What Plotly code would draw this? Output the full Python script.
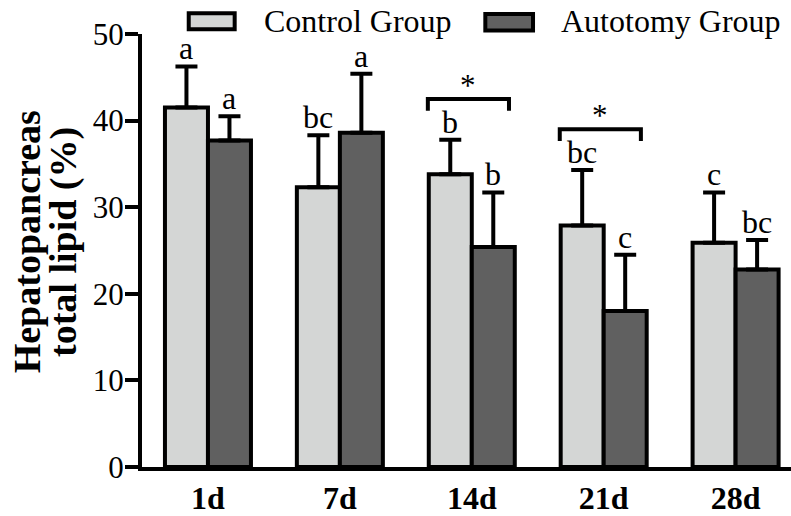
import plotly.graph_objects as go

categories = ["1d", "7d", "14d", "21d", "28d"]
control_mean = [41.5, 32.3, 33.8, 27.9, 25.9]
control_err = [4.75, 6.0, 4.0, 6.4, 5.8]
autotomy_mean = [37.7, 38.6, 25.4, 18.0, 22.8]
autotomy_err = [2.8, 6.8, 6.3, 6.5, 3.4]
control_letters = ["a", "bc", "b", "bc", "c"]
autotomy_letters = ["a", "a", "b", "c", "bc"]
sig_groups = [2, 3]
sig_marks = ["*", "*"]
yticks = [0, 10, 20, 30, 40, 50]

FONT = "Liberation Serif"
LIGHT = "#d4d6d5"
DARK = "#606060"
LW = 4
xi = list(range(len(categories)))
OFF = 0.163

fig = go.Figure()
fig.add_trace(go.Bar(
    x=xi, y=control_mean, name="Control Group",
    marker=dict(color=LIGHT, line=dict(color="black", width=LW)),
    error_y=dict(type="data", array=control_err, arrayminus=[0] * 5, symmetric=False,
                 color="black", thickness=LW, width=11),
))
fig.add_trace(go.Bar(
    x=xi, y=autotomy_mean, name="Autotomy Group",
    marker=dict(color=DARK, line=dict(color="black", width=LW)),
    error_y=dict(type="data", array=autotomy_err, arrayminus=[0] * 5, symmetric=False,
                 color="black", thickness=LW, width=11),
))

annotations = []
for i in xi:
    annotations.append(dict(x=i - OFF, y=control_mean[i] + control_err[i], xref="x", yref="y",
                            text=control_letters[i], showarrow=False, yanchor="bottom",
                            yshift=-2, font=dict(family=FONT, size=32, color="black")))
    annotations.append(dict(x=i + OFF, y=autotomy_mean[i] + autotomy_err[i], xref="x", yref="y",
                            text=autotomy_letters[i], showarrow=False, yanchor="bottom",
                            yshift=-2, font=dict(family=FONT, size=32, color="black")))

shapes = []
for g, mark in zip(sig_groups, sig_marks):
    top = max(control_mean[g] + control_err[g], autotomy_mean[g] + autotomy_err[g]) + 4.7
    x1, x2 = g - 0.333, g + 0.282
    shapes.append(dict(type="path", xref="x", yref="y",
                       path=f"M {x1},{top - 1.35} L {x1},{top} L {x2},{top} L {x2},{top - 1.35}",
                       line=dict(color="black", width=LW)))
    annotations.append(dict(x=(x1 + x2) / 2, y=top, xref="x", yref="y", text=mark,
                            showarrow=False, yanchor="bottom", yshift=-6,
                            font=dict(family=FONT, size=31, color="black")))

# legend drawn manually
shapes.append(dict(type="rect", xref="paper", yref="paper", x0=0.072, x1=0.1428, y0=1.011, y1=1.048,
                   fillcolor=LIGHT, line=dict(color="black", width=LW)))
shapes.append(dict(type="rect", xref="paper", yref="paper", x0=0.529, x1=0.6025, y0=1.008, y1=1.046,
                   fillcolor=DARK, line=dict(color="black", width=LW)))
annotations.append(dict(x=0.185, y=1.03, xref="paper", yref="paper", text="Control Group",
                        showarrow=False, xanchor="left", yanchor="middle",
                        font=dict(family=FONT, size=32, color="black")))
annotations.append(dict(x=0.642, y=1.03, xref="paper", yref="paper", text="Autotomy Group",
                        showarrow=False, xanchor="left", yanchor="middle",
                        font=dict(family=FONT, size=32, color="black")))

# y-axis title (two lines)
annotations.append(dict(x=-0.178, y=0.52, xref="paper", yref="paper", text="<b>Hepatopancreas</b>",
                        showarrow=False, textangle=-90, xanchor="center", yanchor="middle",
                        font=dict(family=FONT, size=38, color="black")))
annotations.append(dict(x=-0.120, y=0.52, xref="paper", yref="paper", text="<b>total lipid (%)</b>",
                        showarrow=False, textangle=-90, xanchor="center", yanchor="middle",
                        font=dict(family=FONT, size=38, color="black")))

fig.update_layout(
    width=791, height=516,
    margin=dict(l=142, r=0, t=34, b=41),
    paper_bgcolor="white", plot_bgcolor="white",
    barmode="group", bargap=0.348, bargroupgap=0,
    showlegend=False,
    annotations=annotations, shapes=shapes,
    xaxis=dict(range=[-0.5, 4.42], tickvals=xi, ticktext=[f"<b>{c}</b>" for c in categories],
               showline=True, linecolor="black", linewidth=LW, ticks="", showgrid=False,
               zeroline=False, tickfont=dict(family=FONT, size=32, color="black")),
    yaxis=dict(range=[0, 50], tickvals=yticks, showline=True, linecolor="black", linewidth=LW,
               ticks="outside", ticklen=13, tickwidth=LW, tickcolor="black", showgrid=False,
               zeroline=False, ticklabelstandoff=-5,
               tickfont=dict(family=FONT, size=31, color="black")),
)

fig.write_html("out.html")
